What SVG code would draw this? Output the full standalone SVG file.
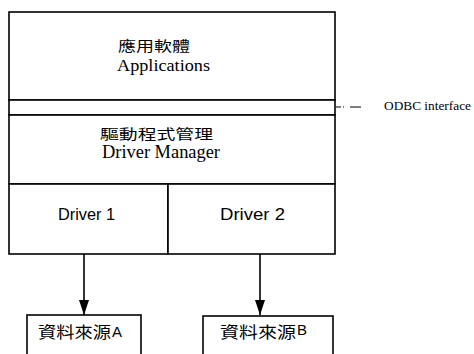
<svg xmlns="http://www.w3.org/2000/svg" width="474" height="354" viewBox="0 0 474 354">
<style>
.box{fill:#fff;stroke:#000;stroke-width:1.6}
.ln{stroke:#000;stroke-width:1.6;fill:none}
.serif{font-family:"Liberation Serif","Noto Sans CJK TC",serif;fill:#000}
.cjk{font-family:"Noto Sans CJK TC","Noto Sans CJK SC",serif;fill:#000}
.sans{font-family:"Liberation Sans","Noto Sans CJK TC",sans-serif;fill:#000}
</style>
<defs>
<marker id="ah" markerWidth="15" markerHeight="10" refX="15" refY="5" orient="auto" markerUnits="userSpaceOnUse" viewBox="0 0 15 10">
<path d="M0,0 L15,5 L0,10 Z" fill="#000"/>
</marker>
</defs>
<rect width="474" height="354" fill="#fff"/>
<g id="applications">
<rect class="box" x="9" y="12" width="326" height="88"/>
<text class="cjk" x="118" y="51" font-size="14" textLength="72" lengthAdjust="spacingAndGlyphs">應用軟體</text>
<text class="serif" x="117" y="71" font-size="17" textLength="93" lengthAdjust="spacingAndGlyphs">Applications</text>
</g>
<g id="odbc">
<rect class="box" x="9" y="100" width="326" height="15"/>
<path d="M336,107 H341 M343,107 H344 M350,107 H361" stroke="#000" stroke-width="1.2"/>
<text class="serif" x="384" y="110" font-size="12" textLength="87" lengthAdjust="spacingAndGlyphs">ODBC interface</text>
</g>
<g id="driver-manager">
<rect class="box" x="9" y="115" width="326" height="69"/>
<text class="cjk" x="100" y="139" font-size="14" textLength="113" lengthAdjust="spacingAndGlyphs">驅動程式管理</text>
<text class="serif" x="102" y="158" font-size="18" textLength="118" lengthAdjust="spacingAndGlyphs">Driver Manager</text>
</g>
<g id="driver1">
<rect class="box" x="9" y="184" width="159" height="70"/>
<text class="sans" x="58" y="220" font-size="16" textLength="57" lengthAdjust="spacingAndGlyphs">Driver 1</text>
</g>
<g id="driver2">
<rect class="box" x="168" y="184" width="167" height="70"/>
<text class="sans" x="220" y="220" font-size="16" textLength="65" lengthAdjust="spacingAndGlyphs">Driver 2</text>
</g>
<g id="connectors">
<line class="ln" x1="84" y1="254" x2="84" y2="315" marker-end="url(#ah)"/>
<line class="ln" x1="260" y1="254" x2="260" y2="315" stroke-width="1" marker-end="url(#ah)"/>
</g>
<g id="sourceA">
<rect class="box" x="27" y="315" width="114" height="44"/>
<text class="cjk" x="38" y="338" font-size="16" textLength="73" lengthAdjust="spacingAndGlyphs">資料來源</text>
<text class="sans" x="112" y="337" font-size="15">A</text>
</g>
<g id="sourceB">
<rect class="box" x="203" y="316" width="130" height="44"/>
<text class="cjk" x="220" y="338" font-size="16" textLength="76" lengthAdjust="spacingAndGlyphs">資料來源</text>
<text class="sans" x="297" y="335" font-size="15">B</text>
</g>
</svg>
